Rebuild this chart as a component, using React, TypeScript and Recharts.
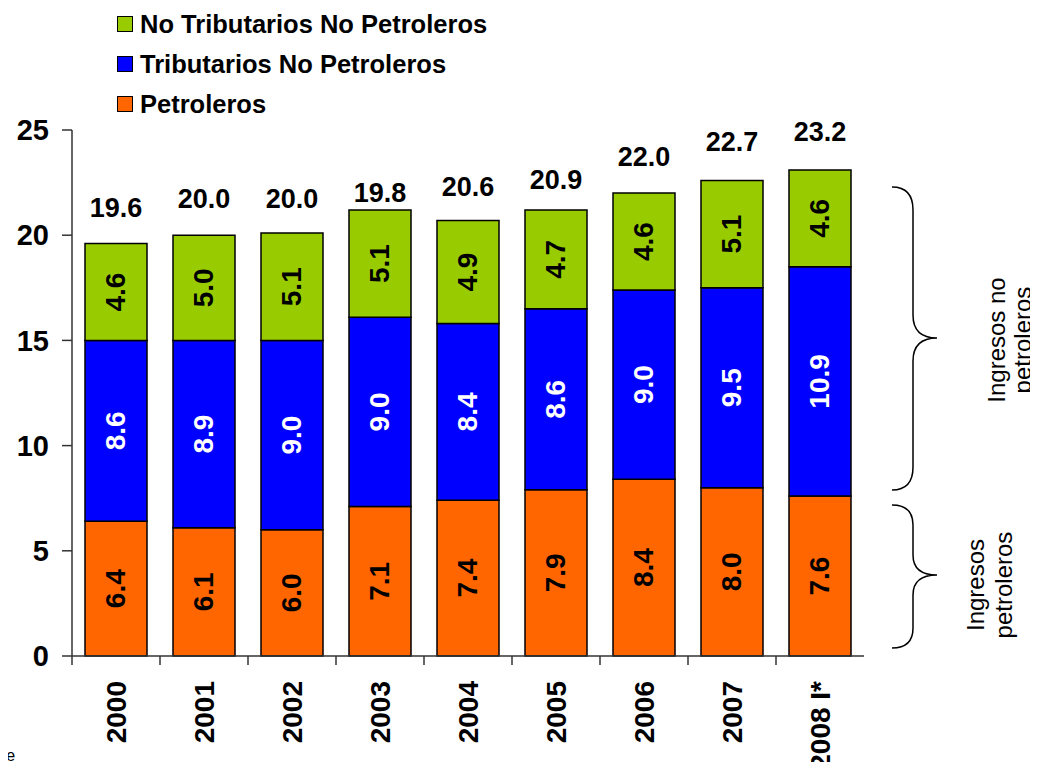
import { Bar, ComposedChart, LabelList, Line, XAxis, YAxis } from "recharts";

const years = ["2000", "2001", "2002", "2003", "2004", "2005", "2006", "2007", "2008 I*"];
const petroleros = [6.4, 6.1, 6.0, 7.1, 7.4, 7.9, 8.4, 8.0, 7.6];
const tributariosNoPetroleros = [8.6, 8.9, 9.0, 9.0, 8.4, 8.6, 9.0, 9.5, 10.9];
const noTributariosNoPetroleros = [4.6, 5.0, 5.1, 5.1, 4.9, 4.7, 4.6, 5.1, 4.6];
const totals = [19.6, 20.0, 20.0, 19.8, 20.6, 20.9, 22.0, 22.7, 23.2];
const yTicks = [0, 5, 10, 15, 20, 25];

const series = [
    { key: "petro", name: "Petroleros", color: "#FF6600", labelColor: "#000", values: petroleros },
    { key: "trib", name: "Tributarios No Petroleros", color: "#0000FF", labelColor: "#fff", values: tributariosNoPetroleros },
    { key: "noTrib", name: "No Tributarios No Petroleros", color: "#99CC00", labelColor: "#000", values: noTributariosNoPetroleros },
];

const data = years.map((year, i) => ({
    year,
    petro: petroleros[i],
    trib: tributariosNoPetroleros[i],
    noTrib: noTributariosNoPetroleros[i],
    total: totals[i],
}));

const FONT = '"Liberation Sans", Arial, sans-serif';
const W = 1038;
const H = 770;
const LEFT = 72;
const TOP = 130;
const RIGHT = 864;
const BOTTOM = 656;
const Y_MAX = 25;
const PX_PER_UNIT = (BOTTOM - TOP) / Y_MAX;
const BAND = (RIGHT - LEFT) / years.length;

// rotated value inside each segment
const segmentLabel = (color: string) => (props: any) => {
    const { x, y, width, height, value } = props;
    const cx = x + width / 2;
    const cy = y + height / 2;
    return (
        <text x={cx} y={cy} fill={color} fontSize={28} fontWeight="bold" fontFamily={FONT}
              textAnchor="middle" dominantBaseline="central" transform={`rotate(-90, ${cx}, ${cy})`}>
            {Number(value).toFixed(1)}
        </text>
    );
};

// total above the bar; keep it clear of the stack top
const totalLabel = (props: any) => {
    const { x, y, value, index } = props;
    const stack = petroleros[index] + tributariosNoPetroleros[index] + noTributariosNoPetroleros[index];
    const stackY = y - (stack - value) * PX_PER_UNIT;
    const ly = Math.min(y - 36, stackY - 17);
    return (
        <text x={x} y={ly} fill="#000" fontSize={27} fontWeight="bold" fontFamily={FONT}
              textAnchor="middle" dominantBaseline="central">
            {Number(value).toFixed(1)}
        </text>
    );
};

const yearTick = (props: any) => {
    const { x, payload } = props;
    const bx = x - BAND / 2;
    return (
        <g>
            <line x1={bx} y1={BOTTOM} x2={bx} y2={BOTTOM + 9} stroke="#333" strokeWidth={1.5} />
            <text x={x} y={BOTTOM + 25} fill="#000" fontSize={28} fontWeight="bold" fontFamily={FONT}
                  textAnchor="end" dominantBaseline="central" transform={`rotate(-90, ${x}, ${BOTTOM + 25})`}>
                {payload.value}
            </text>
        </g>
    );
};

const App = () => {
    return (
        <div style={{ position: "relative", width: W, height: H, margin: -8, fontFamily: FONT, overflow: "hidden" }}>
            <ComposedChart width={W} height={H} data={data}
                           margin={{ top: TOP, right: W - RIGHT, bottom: 0, left: 0 }}>
                <XAxis dataKey="year" height={H - BOTTOM} tickLine={false} axisLine={{ stroke: "#333", strokeWidth: 1.5 }}
                       tick={yearTick} interval={0} />
                <YAxis width={LEFT} domain={[0, Y_MAX]} ticks={yTicks} interval={0} tickSize={10} tickMargin={13}
                       axisLine={{ stroke: "#333", strokeWidth: 1.5 }} tickLine={{ stroke: "#333", strokeWidth: 1.5 }}
                       tick={{ fill: "#000", fontSize: 29, fontWeight: "bold", fontFamily: FONT }} />
                {series.map((s) => (
                    <Bar key={s.key} dataKey={s.key} name={s.name} stackId="a" fill={s.color} barSize={62}
                         stroke="#000" strokeWidth={1.5} isAnimationActive={false}>
                        <LabelList dataKey={s.key} content={segmentLabel(s.labelColor)} />
                    </Bar>
                ))}
                <Line dataKey="total" stroke="none" dot={false} activeDot={false} legendType="none"
                      isAnimationActive={false}>
                    <LabelList dataKey="total" content={totalLabel} />
                </Line>
            </ComposedChart>

            <div style={{ position: "absolute", left: 117, top: 4 }}>
                {[...series].reverse().map((s) => (
                    <div key={s.key} style={{ display: "flex", alignItems: "center", height: 40 }}>
                        <span style={{ width: 14, height: 14, background: s.color, border: "1px solid #000", marginRight: 7 }} />
                        <span style={{ fontSize: 25.5, fontWeight: "bold", color: "#000", lineHeight: "40px" }}>{s.name}</span>
                    </div>
                ))}
            </div>

            <svg width={W} height={H} style={{ position: "absolute", left: 0, top: 0, pointerEvents: "none" }}>
                <path d="M892,187 Q913,187 913,210 L913,315 Q913,338 937,338 Q913,338 913,361 L913,467 Q913,490 892,490"
                      fill="none" stroke="#000" strokeWidth={1.5} />
                <path d="M892,505 Q913,505 913,525 L913,555 Q913,575 937,575 Q913,575 913,595 L913,628 Q913,648 892,648"
                      fill="none" stroke="#000" strokeWidth={1.5} />
                <g fontFamily={FONT} fontSize={24} fill="#000" textAnchor="middle" dominantBaseline="central">
                    <text x={996} y={340} transform="rotate(-90, 996, 340)">Ingresos no</text>
                    <text x={1022} y={340} transform="rotate(-90, 1022, 340)">petroleros</text>
                    <text x={975} y={585} transform="rotate(-90, 975, 585)">Ingresos</text>
                    <text x={1003} y={585} transform="rotate(-90, 1003, 585)">petroleros</text>
                </g>
                <text x={1} y={761} fontFamily={FONT} fontSize={16} fill="#000">re</text>
            </svg>
        </div>
    );
};

export default App;
